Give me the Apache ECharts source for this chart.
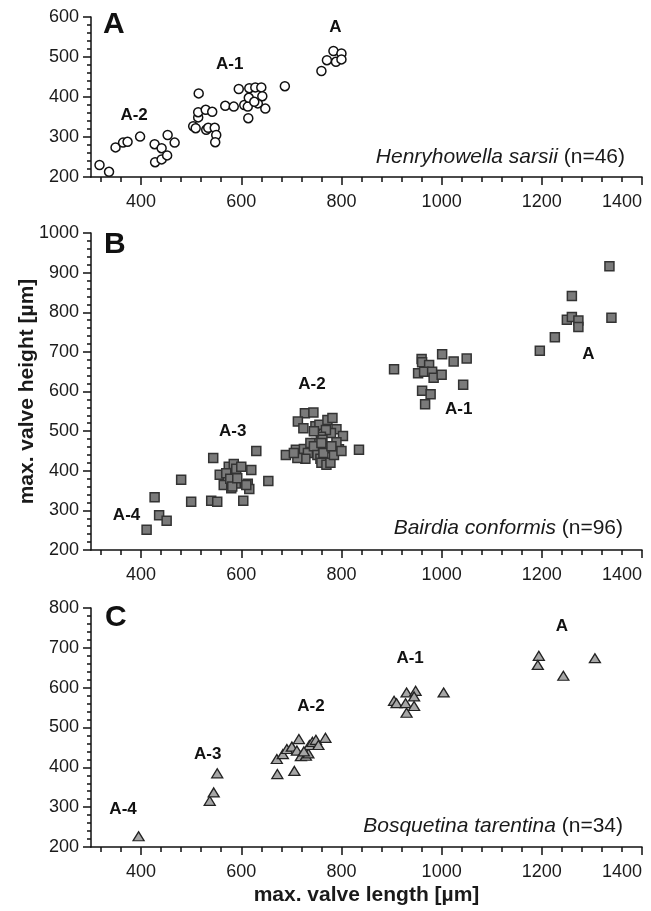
<!DOCTYPE html>
<html>
<head>
<meta charset="utf-8">
<script src="https://cdn.jsdelivr.net/npm/echarts@6/dist/echarts.min.js"></script>
<style>
  html, body { margin: 0; padding: 0; background: #fff; }
  #chart { width: 651px; height: 911px; }
</style>
</head>
<body>
<div id="chart"></div>
<script>
// panel A - Henryhowella sarsii (n=46)
const lenA = [317,336,349,364,373,398,427,441,428,441,452,453,467,504,509,514,514,515,529,542,530,534,547,550,548,568,585,595,606,613,614,615,616,628,640,633,642,648,687,760,771,784,789,800,800,626];
const heightA = [230,213,274,286,288,301,282,272,237,244,254,305,286,327,322,349,362,409,368,363,318,323,323,305,287,378,376,420,380,376,347,398,422,424,424,384,402,371,427,465,492,515,488,509,494,388];

// panel B - Bairdia conformis (n=96)
const lenB = [411,427,436,451,480,500,540,544,552,557,575,573,565,580,585,590,589,600,604,613,616,620,630,654,570,578,582,592,610,
  727,744,713,724,748,756,772,782,790,803,779,769,759,749,762,774,795,835,689,709,742,756,
  718,725,733,738,745,752,758,764,760,770,778,785,790,800,728,712,705,760,780,745,
  905,960,961,975,1001,1024,953,965,981,984,1000,961,978,967,1050,1043,
  1335,1260,1250,1260,1273,1273,1339,1226,1196];
const heightB = [251,333,288,274,377,322,324,432,322,390,410,377,364,356,417,405,368,410,324,367,354,402,450,374,394,380,360,381,364,
  545,547,524,507,512,516,528,533,505,488,495,503,486,470,478,457,454,453,440,453,448,457,
  440,455,445,470,462,440,430,445,420,415,420,440,472,450,430,432,445,470,462,500,
  656,682,674,667,694,676,646,650,650,635,642,602,593,568,683,617,
  916,841,781,788,779,763,786,737,703];

// panel C - Bosquetina tarentina (n=34)
const lenC = [395,537,545,552,672,706,671,683,691,701,711,715,719,729,734,736,742,749,754,768,725,
  905,910,930,948,945,928,945,930,1004,
  1194,1192,1243,1306];
const heightC = [227,316,337,385,383,391,421,433,446,452,442,471,428,429,435,456,464,469,456,474,440,
  567,561,588,592,578,561,554,537,588,
  680,657,630,674];

// group labels (text + where they sit in data units)
const groupsA = [['A-2',386,355],['A-1',577,482],['A',788,573]];
const groupsB = [['A-4',371,288],['A-3',583,499],['A-2',741,617],['A-1',1034,554],['A',1293,695]];
const groupsC = [['A-4',364,295],['A-3',533,433],['A-2',739,552],['A-1',937,673],['A',1240,754]];

// ticks
const xTicks = [400,600,800,1000,1200,1400];
const xMinorTicks = [320,360,440,480,520,560,640,680,720,760,840,880,920,960,1040,1080,1120,1160,1240,1280,1320,1360];
const yMaxA = 600, yMaxB = 1000, yMaxC = 800;

const FONT = '"Liberation Sans", Arial, Helvetica, sans-serif';
const lineStyle = { color: '#111', width: 1.5 };
const plain = v => String(v);

function xMain(gi, showName) {
  return {
    type: 'value', gridIndex: gi, min: 300, max: 1400, position: 'bottom',
    axisLine: { show: true, onZero: false, lineStyle: lineStyle },
    axisTick: { show: true, length: 8, customValues: xTicks, lineStyle: lineStyle },
    axisLabel: { customValues: xTicks, formatter: plain, fontSize: 18, color: '#1a1a1a', fontFamily: FONT, margin: 16, alignMaxLabel: 'right' },
    splitLine: { show: false },
    name: showName ? 'max. valve length [µm]' : '',
    nameLocation: 'middle', nameGap: 38, nameMoveOverlap: false,
    nameTextStyle: { fontSize: 21, fontWeight: 'bold', color: '#1a1a1a', fontFamily: FONT }
  };
}
function xMinor(gi) {
  return {
    type: 'value', gridIndex: gi, min: 300, max: 1400, position: 'bottom',
    axisLine: { show: false, onZero: false },
    axisTick: { show: true, length: 5, customValues: xMinorTicks, lineStyle: lineStyle },
    axisLabel: { show: false },
    splitLine: { show: false }
  };
}
function yAx(gi, max, showName) {
  return {
    type: 'value', gridIndex: gi, min: 200, max: max, interval: 100,
    axisLine: { show: true, onZero: false, lineStyle: lineStyle },
    axisTick: { show: true, length: 8, lineStyle: lineStyle },
    minorTick: { show: true, splitNumber: 5, length: 4, lineStyle: lineStyle },
    axisLabel: { formatter: plain, fontSize: 18, color: '#1a1a1a', fontFamily: FONT, margin: 12 },
    splitLine: { show: false },
    name: showName ? 'max. valve height [µm]' : '',
    nameLocation: 'middle', nameGap: 53, nameRotate: 90, nameMoveOverlap: false,
    nameTextStyle: { fontSize: 21, fontWeight: 'bold', color: '#1a1a1a', fontFamily: FONT }
  };
}
function pts(xs, ys) {
  return xs.map((v, i) => [v, ys[i]]);
}
function groupSeries(gi, groups) {
  return {
    type: 'scatter', xAxisIndex: gi * 2, yAxisIndex: gi, symbol: 'circle', symbolSize: 1, silent: true,
    itemStyle: { color: '#fff', borderWidth: 0 },
    data: groups.map(g => ({ value: [g[1], g[2]], name: g[0] })),
    label: {
      show: true, position: 'inside', formatter: p => p.name,
      fontSize: 17, fontWeight: 'bold', color: '#111', fontFamily: FONT,
      textBorderWidth: 0, opacity: 1
    },
    z: 5
  };
}
function species(x, y, italic, rest) {
  return {
    type: 'text', x: x, y: y,
    style: {
      text: '{i|' + italic + '} ' + rest,
      align: 'right', verticalAlign: 'middle',
      fontSize: 21, fontFamily: FONT, fill: '#1a1a1a',
      rich: { i: { fontStyle: 'italic', fontSize: 21, fontFamily: FONT, fill: '#1a1a1a' } }
    }
  };
}
function letter(x, y, t) {
  return {
    type: 'text', x: x, y: y,
    style: { text: t, align: 'left', verticalAlign: 'middle', fontSize: 30, fontWeight: 'bold', fontFamily: FONT, fill: '#111' }
  };
}

let myChart = echarts.init(document.getElementById('chart'), null, { renderer: 'canvas' });
let option = {
  animation: false,
  backgroundColor: '#fff',
  grid: [
    { left: 91, right: 9, top: 17, height: 160, outerBoundsMode: 'none', containLabel: false },
    { left: 91, right: 9, top: 233, height: 317, outerBoundsMode: 'none', containLabel: false },
    { left: 91, right: 9, top: 608, height: 239, outerBoundsMode: 'none', containLabel: false }
  ],
  xAxis: [xMain(0), xMinor(0), xMain(1), xMinor(1), xMain(2, true), xMinor(2)],
  yAxis: [yAx(0, yMaxA), yAx(1, yMaxB, true), yAx(2, yMaxC)],
  series: [
    {
      type: 'scatter', xAxisIndex: 0, yAxisIndex: 0, symbol: 'circle', symbolSize: 9,
      itemStyle: { color: '#fff', borderColor: '#111', borderWidth: 1.5, opacity: 1 },
      data: pts(lenA, heightA)
    },
    {
      type: 'scatter', xAxisIndex: 2, yAxisIndex: 1, symbol: 'rect', symbolSize: 9,
      itemStyle: { color: '#7a7a7a', borderColor: '#333', borderWidth: 1.5, opacity: 1 },
      data: pts(lenB, heightB)
    },
    {
      type: 'scatter', xAxisIndex: 4, yAxisIndex: 2, symbol: 'triangle', symbolSize: [11, 9],
      itemStyle: { color: '#a6a6a6', borderColor: '#222', borderWidth: 1.3, opacity: 1 },
      data: pts(lenC, heightC)
    },
    groupSeries(0, groupsA),
    groupSeries(1, groupsB),
    groupSeries(2, groupsC)
  ],
  graphic: [
    letter(103, 25, 'A'),
    letter(104, 245, 'B'),
    letter(105, 618, 'C'),
    species(625, 157, 'Henryhowella sarsii', '(n=46)'),
    species(623, 528, 'Bairdia conformis', '(n=96)'),
    species(623, 826, 'Bosquetina tarentina', '(n=34)')
  ]
};
myChart.setOption(option);
</script>
</body>
</html>
